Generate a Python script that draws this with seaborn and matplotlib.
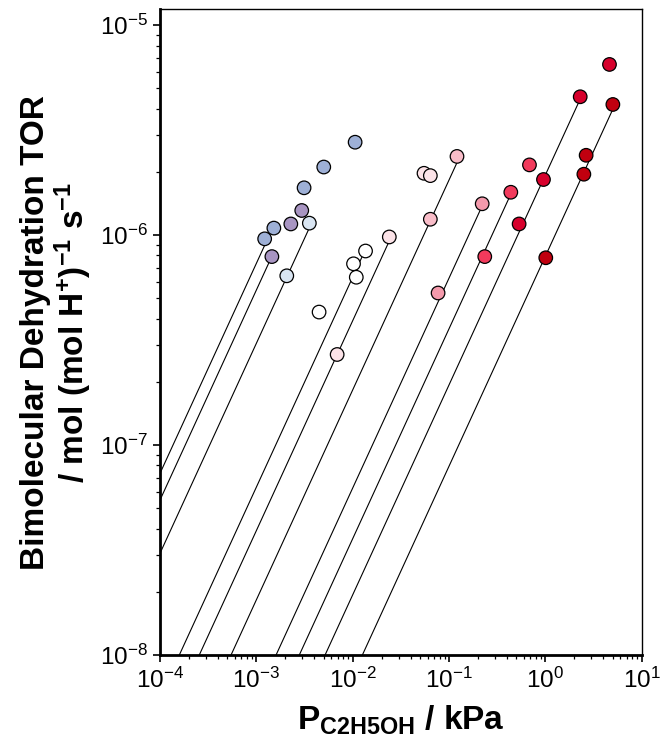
import numpy as np
import pandas as pd
import matplotlib
matplotlib.use("Agg")
import matplotlib.pyplot as plt
import seaborn as sns
from matplotlib.ticker import LogLocator, NullFormatter, LogFormatterSciNotation

# ---------------- data ----------------
series_names = ["A", "B", "C", "D", "E", "F", "G", "H", "I", "J"]

p_A = [1.22e-3, 1.52e-3, 3.13e-3, 5.01e-3, 1.06e-2]
t_A = [9.6e-7, 1.08e-6, 1.68e-6, 2.11e-6, 2.77e-6]
p_B = [1.45e-3, 2.28e-3, 2.96e-3]
t_B = [7.9e-7, 1.13e-6, 1.31e-6]
p_C = [2.07e-3, 3.55e-3]
t_C = [6.4e-7, 1.14e-6]
p_D = [4.48e-3, 1.02e-2, 1.09e-2, 1.36e-2]
t_D = [4.3e-7, 7.3e-7, 6.3e-7, 8.4e-7]
p_E = [6.9e-3, 2.4e-2, 5.5e-2, 6.4e-2]
t_E = [2.7e-7, 9.8e-7, 1.97e-6, 1.92e-6]
p_F = [6.4e-2, 0.121]
t_F = [1.19e-6, 2.37e-6]
p_G = [7.7e-2, 0.221]
t_G = [5.3e-7, 1.41e-6]
p_H = [0.235, 0.438, 0.684]
t_H = [7.9e-7, 1.60e-6, 2.16e-6]
p_I = [0.534, 0.956, 2.30, 4.63]
t_I = [1.13e-6, 1.84e-6, 4.56e-6, 6.5e-6]
p_J = [1.01, 2.51, 2.65, 5.02]
t_J = [7.8e-7, 1.95e-6, 2.40e-6, 4.19e-6]

# first-order fit lines: TOR = k * P, drawn up to P_end
fit_k = [7.33e-4, 5.47e-4, 3.05e-4, 6.3e-5, 3.91e-5, 1.83e-5, 6.24e-6, 3.58e-6, 1.934e-6, 7.93e-7]
fit_end = [1.52e-3, 1.45e-3, 3.55e-3, 1.36e-2, 2.4e-2, 0.121, 0.221, 0.438, 2.30, 5.02]

colors = ["#9EB0D6", "#A895C2", "#D9E5F2", "#FFFFFF", "#FCE3E8",
          "#F9BDC9", "#F49AAC", "#F23A5C", "#D7002C", "#C0000F"]

x_ticks = [1e-4, 1e-3, 1e-2, 1e-1, 1e0, 1e1]
y_ticks = [1e-8, 1e-7, 1e-6, 1e-5]

# ---------------- build tables ----------------
P_all = [p_A, p_B, p_C, p_D, p_E, p_F, p_G, p_H, p_I, p_J]
T_all = [t_A, t_B, t_C, t_D, t_E, t_F, t_G, t_H, t_I, t_J]
pts = pd.DataFrame({
    "P": np.concatenate(P_all),
    "TOR": np.concatenate(T_all),
    "series": np.concatenate([[n] * len(p) for n, p in zip(series_names, P_all)]),
})
rows = []
for n, k, pe in zip(series_names, fit_k, fit_end):
    pp = np.geomspace(x_ticks[0], pe, 80)
    rows.append(pd.DataFrame({"P": pp, "TOR": k * pp, "series": n}))
lines = pd.concat(rows, ignore_index=True)

# ---------------- style ----------------
sns.set_theme(style="ticks")
plt.rcParams["font.family"] = ["Liberation Sans", "DejaVu Sans"]
plt.rcParams["mathtext.fontset"] = "custom"
plt.rcParams["mathtext.rm"] = "Liberation Sans"
plt.rcParams["mathtext.it"] = "Liberation Sans:italic"
plt.rcParams["mathtext.bf"] = "Liberation Sans:bold"
plt.rcParams["mathtext.sf"] = "Liberation Sans"
plt.rcParams["axes.unicode_minus"] = False
for key in ["text.color", "axes.labelcolor", "xtick.color", "ytick.color",
            "xtick.labelcolor", "ytick.labelcolor", "axes.edgecolor"]:
    plt.rcParams[key] = "black"

fig = plt.figure(figsize=(6.63, 7.5), dpi=100)
ax = fig.add_axes([160 / 663, 1 - 655 / 750, 481.7 / 663, (655 - 9.3) / 750])
ax.set_xscale("log")
ax.set_yscale("log")

sns.lineplot(data=lines, x="P", y="TOR", units="series", estimator=None,
             color="black", linewidth=0.8, ax=ax, zorder=2, legend=False)
sns.scatterplot(data=pts, x="P", y="TOR", hue="series", hue_order=series_names,
                palette=colors, s=95, edgecolor="black", linewidth=0.9,
                ax=ax, zorder=3, legend=False)

ax.set_xlim(1e-4, 10)
ax.set_ylim(1e-8, 1.19e-5)
ax.xaxis.set_major_locator(LogLocator(base=10, numticks=20))
ax.yaxis.set_major_locator(LogLocator(base=10, numticks=20))
ax.xaxis.set_minor_locator(LogLocator(base=10, subs=np.arange(2, 10), numticks=100))
ax.yaxis.set_minor_locator(LogLocator(base=10, subs=np.arange(2, 10), numticks=100))
ax.xaxis.set_minor_formatter(NullFormatter())
ax.yaxis.set_minor_formatter(NullFormatter())
ax.xaxis.set_major_formatter(LogFormatterSciNotation())
ax.yaxis.set_major_formatter(LogFormatterSciNotation())

ax.tick_params(axis="both", which="major", direction="out", length=5, width=1.2,
               labelsize=17.5, color="black", labelcolor="black", pad=4,
               top=False, right=False)
ax.tick_params(axis="both", which="minor", direction="out", length=3, width=0.9,
               color="black", top=False, right=False)

for s in ["left", "bottom"]:
    ax.spines[s].set_linewidth(2.0)
for s in ["top", "right"]:
    ax.spines[s].set_linewidth(1.0)
for s in ax.spines.values():
    s.set_color("black")

ax.set_xlabel(r"P$_{\mathbf{C2H5OH}}$ / kPa", fontsize=24, fontweight="bold",
              color="black")
ax.set_ylabel("Bimolecular Dehydration TOR\n/ mol (mol H$^{\\mathbf{+}}$)$^{\\mathbf{-1}}$ s$^{\\mathbf{-1}}$",
              fontsize=24, fontweight="bold", linespacing=1.05, color="black")
ax.xaxis.set_label_coords(0.5, -0.075)
ax.xaxis.label.set_va("top")
ax.yaxis.set_label_coords(-0.136, 0.5)

fig.savefig("out.png", dpi=100)
